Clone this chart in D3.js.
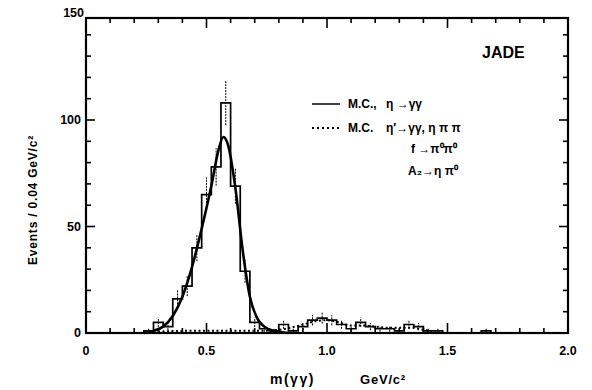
<!DOCTYPE html>
<html><head><meta charset="utf-8">
<script src="https://cdn.jsdelivr.net/npm/d3@7/dist/d3.min.js"></script>
<style>
body{margin:0;background:#fff;}
text{font-family:"Liberation Sans",Arial,sans-serif;font-weight:bold;fill:#000;}
</style></head><body>
<svg id="c" width="592" height="390"></svg>
<script>
// histogram: bin left edges (GeV/c^2), width 0.04
const binEdges = [0.24,0.28,0.32,0.36,0.40,0.44,0.48,0.52,0.56,0.60,0.64,0.68,0.72,0.76,0.80,0.84,0.88,0.92,0.96,1.00,1.04,1.08,1.12,1.16,1.20,1.24,1.28,1.32,1.36,1.40,1.44,1.64];
const counts   = [1,   5,   3,   16,  22,  40,  65,  78,  108, 69,  29,  5,   2,   1,   4,   1,   3,   6,   7,   6,   4,   2,   5,   3,   2,   2,   1,   4,   3,   1,   1,   1];
const errors   = [1,   2.2, 1.7, 4,   4.7, 6.3, 8.1, 8.8, 10.4,8.3, 5.4, 2.2, 1.4, 1,   2,   1,   1.7, 2.4, 2.6, 2.4, 2,   1.4, 2.2, 1.7, 1.4, 1.4, 1,   2,   1.7, 1,   1,   1];
// M.C. eta -> gamma gamma (solid)
const mcEtaX = [0.24,0.28,0.32,0.36,0.40,0.44,0.48,0.52,0.55,0.57,0.59,0.62,0.65,0.68,0.71,0.74,0.78,0.84];
const mcEtaY = [0,   1,   3,   8,   17,  31,  49,  69,  86,  92,  88,  68,  39,  17,  7,   3,   1,   0];
// M.C. eta', f, A2 (dotted)
const mcBgX = [0.28,0.40,0.50,0.60,0.70,0.80,0.85,0.90,0.95,1.00,1.05,1.10,1.15,1.20,1.25,1.30,1.35,1.40,1.45];
const mcBgY = [0.5, 1,   1,   1,   1,   1.5, 2.5, 4,   5.5, 6,   5,   3.5, 3.5, 3,   2.5, 2.5, 2.5, 1.5, 0.5];
const xTicks = [0,0.5,1.0,1.5,2.0];
const xTickLabels = ["0","0.5","1.0","1.5","2.0"];
const yTicks = [0,50,100,150];
const yTickLabels = ["0","50","100","150"];
const binW = 0.04;

const svg = d3.select("#c");
const L=86, R=568, T=18, B=333;
const x = d3.scaleLinear().domain([0,2]).range([L,R]);
const y = d3.scaleLinear().domain([0,100]).range([B,120]);

// ticks inward
const minorX = d3.range(1,20).map(d=>d/10);
minorX.forEach(v=>{
  const major = Math.abs(v*2-Math.round(v*2))<1e-6;
  const len = major?10:5;
  svg.append("line").attr("x1",x(v)).attr("x2",x(v)).attr("y1",B).attr("y2",B-len).attr("stroke","#000").attr("stroke-width",1.6);
  svg.append("line").attr("x1",x(v)).attr("x2",x(v)).attr("y1",T).attr("y2",T+len).attr("stroke","#000").attr("stroke-width",1.6);
});
const minorY = d3.range(10,150,10);
minorY.forEach(v=>{
  if (y(v) < T+2) return;
  const len = (v%50===0)?9:5;
  svg.append("line").attr("x1",L).attr("x2",L+len).attr("y1",y(v)).attr("y2",y(v)).attr("stroke","#000").attr("stroke-width",1.6);
  svg.append("line").attr("x1",R).attr("x2",R-len).attr("y1",y(v)).attr("y2",y(v)).attr("stroke","#000").attr("stroke-width",1.6);
});

// tick labels
xTicks.forEach((v,i)=>{
  svg.append("text").attr("x",x(v)).attr("y",355).attr("text-anchor","middle")
    .attr("font-size",12.5).text(xTickLabels[i]);
});
yTicks.forEach((v,i)=>{
  const yy = v===150 ? 13 : y(v);
  svg.append("text").attr("x",v===150?84:81).attr("y",yy+4).attr("text-anchor","end")
    .attr("font-size",12.5).text(yTickLabels[i]);
});

// axis titles
svg.append("text").attr("x",270).attr("y",384).attr("font-size",14).attr("letter-spacing",1.5).text("m(γγ)");
svg.append("text").attr("x",360).attr("y",384).attr("font-size",13).attr("letter-spacing",0.8).text("GeV/c²");
svg.append("text").attr("transform","translate(37,200) rotate(-90)").attr("text-anchor","middle")
  .attr("font-size",12).attr("letter-spacing",0.8).text("Events / 0.04 GeV/c²");

// JADE
svg.append("text").attr("x",482).attr("y",58).attr("font-size",16).text("JADE");

// histogram as step outline
let p = "";
binEdges.forEach((e,i)=>{
  const contiguous = i>0 && Math.abs(binEdges[i-1]+binW-e)<1e-6;
  if (!contiguous) {
    if (i>0) p += `V${y(0)}`;
    p += `M${x(e)},${y(0)}`;
  }
  p += `V${y(counts[i])}H${x(e+binW)}`;
});
p += `V${y(0)}`;
svg.append("path").attr("d",p).attr("fill","none").attr("stroke","#000").attr("stroke-width",1.7);

// error bars
binEdges.forEach((e,i)=>{
  const cx = x(e+binW/2);
  svg.append("line").attr("x1",cx).attr("x2",cx)
    .attr("y1",y(Math.max(0,counts[i]-errors[i]))).attr("y2",y(counts[i]+errors[i]))
    .attr("stroke","#000").attr("stroke-width",1).attr("stroke-dasharray","2,1");
});

// MC curves
const line = d3.line().x(d=>x(d[0])).y(d=>y(d[1])).curve(d3.curveMonotoneX);
svg.append("path").datum(mcEtaX.map((v,i)=>[v,mcEtaY[i]])).attr("d",line)
  .attr("fill","none").attr("stroke","#000").attr("stroke-width",2.6);
svg.append("path").datum(mcBgX.map((v,i)=>[v,mcBgY[i]])).attr("d",line)
  .attr("fill","none").attr("stroke","#000").attr("stroke-width",2).attr("stroke-dasharray","2,2.5");

// frame
svg.append("rect").attr("x",L).attr("y",T).attr("width",R-L).attr("height",B-T)
  .attr("fill","none").attr("stroke","#000").attr("stroke-width",2.2);

// legend
svg.append("line").attr("x1",312).attr("x2",340).attr("y1",104).attr("y2",104).attr("stroke","#000").attr("stroke-width",1.5);
svg.append("line").attr("x1",312).attr("x2",340).attr("y1",128).attr("y2",128).attr("stroke","#000").attr("stroke-width",2).attr("stroke-dasharray","2,3");
const lg = [[348,108,"M.C.,"],[386,108,"η →γγ"],[348,132,"M.C."],[386,132,"η′→γγ, η π π"],[411,153,"f →π⁰π⁰"],[408,175,"A₂→η π⁰"]];
lg.forEach(d=>svg.append("text").attr("x",d[0]).attr("y",d[1]).attr("font-size",12).text(d[2]));
</script>
</body></html>
